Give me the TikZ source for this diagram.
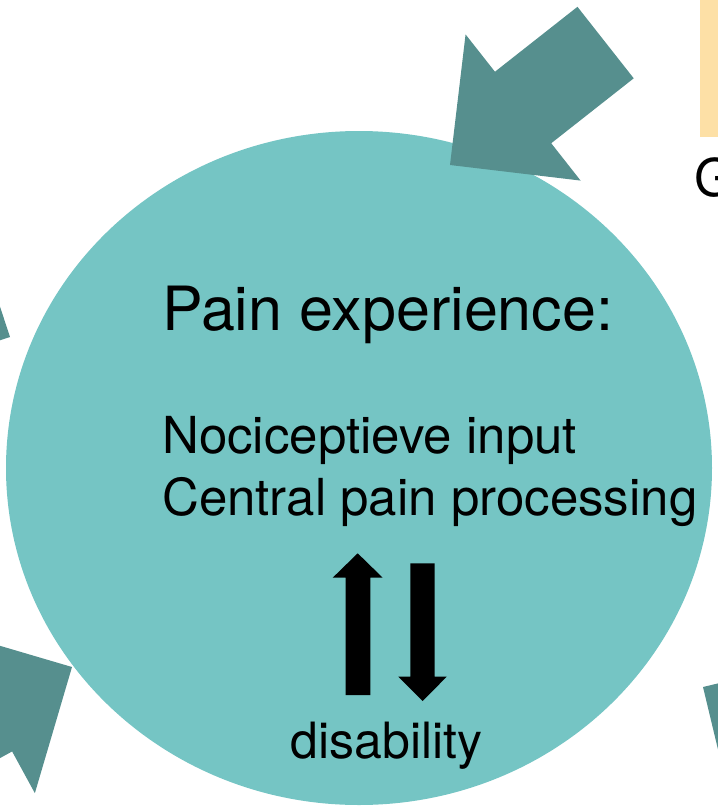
\documentclass[tikz,border=0pt]{standalone}
\usepackage{fontspec}
\setmainfont{TeX Gyre Heros}
\definecolor{discteal}{HTML}{75C5C4}
\definecolor{arrowteal}{HTML}{568F8E}
\definecolor{boxyellow}{HTML}{FDE0A6}
\begin{document}
\begin{tikzpicture}[x=1pt,y=-1pt,
  txt/.style={inner sep=0pt, anchor=base west, text=black},
  tealarrow/.pic={\fill[arrowteal] (0,0) -- (-93,93) -- (-93,45.5) -- (-198,45.5)
      -- (-198,-45.5) -- (-93,-45.5) -- (-93,-93) -- cycle;}]
\useasboundingbox (0,0) rectangle (718,807);
\clip (0,0) rectangle (718,807);

% neighbouring box at the upper right
\fill[boxyellow] (700,-2) rectangle (720,137);
\node[txt] (gtext) at (694,196) {\fontsize{52}{52}\selectfont G};

% central disc
\fill[discteal] (359,468) ellipse [x radius=353pt, y radius=337pt];

% incoming block arrows
\pic[rotate=218.2] at (450,165) {tealarrow};
\pic[rotate=28.6] at (72,667) {tealarrow};
\pic[rotate=-26.8] at (10,337) {tealarrow};
\pic[rotate=148.5] at (703,687) {tealarrow};

% texts in the disc
\node[txt] (title) at (162,330) {\fontsize{61}{61}\selectfont Pain experience:};
\node[txt] (noci) at (162,453) {\fontsize{51}{51}\selectfont Nociceptieve input};
\node[txt] (central) at (162,515) {\fontsize{51}{51}\selectfont Central pain processing};
\node[inner sep=0pt, anchor=base, text=black] (disab) at (386.5,758) {\fontsize{50}{50}\selectfont disability};

% two-way relation
\fill[black] (357.7,553.3) -- (382.7,577.7) -- (370.3,577.7) -- (370.3,695)
  -- (345.7,695) -- (345.7,577.7) -- (332.7,577.7) -- cycle;
\fill[black] (422.7,701) -- (446.7,676.7) -- (434.7,676.7) -- (434.7,563.3)
  -- (410.3,563.3) -- (410.3,676.7) -- (398.3,676.7) -- cycle;
\end{tikzpicture}
\end{document}
